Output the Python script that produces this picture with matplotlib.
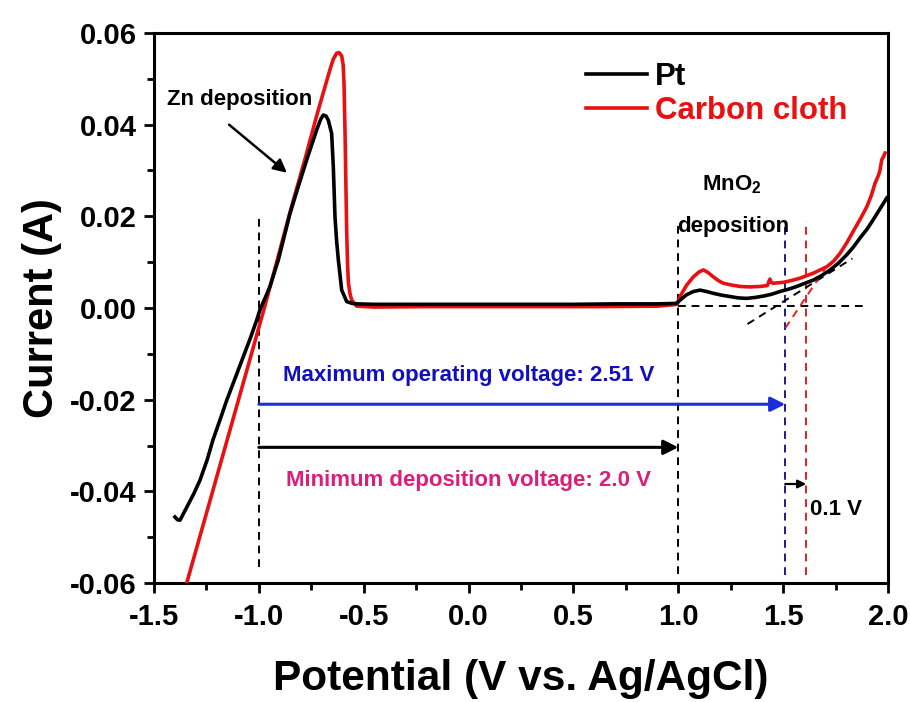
import matplotlib
matplotlib.use("Agg")
import matplotlib.pyplot as plt
from matplotlib.ticker import MultipleLocator, FormatStrFormatter

plt.rcParams['font.family'] = ['Liberation Sans', 'DejaVu Sans']
plt.rcParams['font.weight'] = 'bold'
plt.rcParams['mathtext.default'] = 'regular'

# Linear sweep voltammetry, Pt electrode
pt_v = [-1.400, -1.388, -1.376, -1.343, -1.310, -1.281, -1.247, -1.219, -1.186,
        -1.153, -1.113, -1.074, -1.040, -1.010, -0.995, -0.970, -0.947, -0.907,
        -0.851, -0.810, -0.772, -0.724, -0.705, -0.693, -0.680, -0.669, -0.653,
        -0.645, -0.637, -0.629, -0.621, -0.605, -0.581, -0.555, -0.533, -0.450,
        -0.300, -0.100, 0.100, 0.300, 0.500, 0.700, 0.900, 0.990, 1.008, 1.040,
        1.072, 1.104, 1.135, 1.167, 1.207, 1.247, 1.286, 1.326, 1.366, 1.406,
        1.445, 1.485, 1.525, 1.565, 1.604, 1.644, 1.684, 1.724, 1.764, 1.803,
        1.835, 1.867, 1.900, 1.930, 1.960, 1.994]
pt_i = [-0.0456, -0.0462, -0.0463, -0.0434, -0.0405, -0.0376, -0.0332, -0.0288, -0.0245,
        -0.0201, -0.0153, -0.0106, -0.0065, -0.0026, -0.0004, 0.0022, 0.0047, 0.0105,
        0.0207, 0.0268, 0.0323, 0.0389, 0.0412, 0.0421, 0.0419, 0.0410, 0.0381,
        0.0309, 0.0199, 0.0145, 0.0105, 0.0039, 0.0014, 0.0010, 0.0009, 0.0008,
        0.0008, 0.0008, 0.0008, 0.0008, 0.0008, 0.0009, 0.0009, 0.0010, 0.0017, 0.0029,
        0.0036, 0.0039, 0.0036, 0.0032, 0.0028, 0.0025, 0.0022, 0.0021, 0.0023, 0.0026,
        0.0030, 0.0036, 0.0041, 0.0047, 0.0054, 0.0061, 0.0071, 0.0083, 0.0098, 0.0116,
        0.0133, 0.0153, 0.0172, 0.0193, 0.0215, 0.0240]

# Linear sweep voltammetry, carbon cloth electrode
cc_v = [-1.360, -1.344, -1.250, -1.150, -1.050, -0.974, -0.915, -0.851, -0.780,
        -0.724, -0.680, -0.661, -0.645, -0.629, -0.617, -0.605, -0.598, -0.594,
        -0.589, -0.585, -0.581, -0.577, -0.573, -0.565, -0.557, -0.533, -0.450,
        -0.200, 0.200, 0.600, 0.900, 0.995, 1.008, 1.040, 1.072, 1.100, 1.120,
        1.140, 1.167, 1.190, 1.215, 1.255, 1.295, 1.340, 1.390, 1.425, 1.432,
        1.437, 1.443, 1.453, 1.501, 1.540, 1.580, 1.644, 1.708, 1.740, 1.771,
        1.803, 1.835, 1.870, 1.899, 1.920, 1.938, 1.955, 1.962, 1.970, 1.978, 1.986]
cc_i = [-0.0626, -0.0600, -0.0448, -0.0286, -0.0124, 0.0000, 0.0100, 0.0210, 0.0325,
        0.0420, 0.0490, 0.0520, 0.0543, 0.0556, 0.0557, 0.0550, 0.0530, 0.0491,
        0.0382, 0.0270, 0.0164, 0.0095, 0.0055, 0.0030, 0.0017, 0.0004, 0.0002,
        0.0003, 0.0003, 0.0003, 0.0004, 0.0008, 0.0025, 0.0050, 0.0068, 0.0079, 0.0083,
        0.0078, 0.0068, 0.0060, 0.0054, 0.0050, 0.0047, 0.0046, 0.0047, 0.0049, 0.0058,
        0.0063, 0.0056, 0.0054, 0.0056, 0.0060, 0.0065, 0.0076, 0.0090, 0.0102, 0.0119,
        0.0142, 0.0168, 0.0196, 0.0221, 0.0245, 0.0272, 0.0290, 0.0301, 0.0323, 0.0330, 0.0338]

series_labels = ["Pt", "Carbon cloth"]
series_colors = ["black", "#E81010"]

x_ticks = [-1.5, -1.0, -0.5, 0.0, 0.5, 1.0, 1.5, 2.0]
y_ticks = [-0.06, -0.04, -0.02, 0.00, 0.02, 0.04, 0.06]

# key potentials (V vs. Ag/AgCl)
zn_onset = -1.0
mn_onset_pt = 1.0
mn_onset_cc = 1.51
mn_onset_cc_shift = 1.61

fig = plt.figure(figsize=(9.10, 7.02), dpi=100)
ax = fig.add_axes([154 / 910, 1 - 583 / 702, 734 / 910, 550 / 702])

ax.plot(pt_v, pt_i, color=series_colors[0], lw=2.6, label=series_labels[0],
        solid_joinstyle='round', zorder=4)
ax.plot(cc_v, cc_i, color=series_colors[1], lw=2.6, label=series_labels[1],
        solid_joinstyle='round', zorder=3)

ax.set_xlim(-1.5, 2.0)
ax.set_ylim(-0.06, 0.06)
ax.set_xticks(x_ticks)
ax.set_yticks(y_ticks)
ax.xaxis.set_minor_locator(MultipleLocator(0.25))
ax.yaxis.set_minor_locator(MultipleLocator(0.01))
ax.xaxis.set_major_formatter(FormatStrFormatter('%.1f'))
ax.yaxis.set_major_formatter(FormatStrFormatter('%.2f'))
ax.tick_params(which='major', direction='out', length=7.5, width=2, labelsize=21)
ax.tick_params(axis='x', which='major', pad=7)
ax.tick_params(axis='y', which='major', pad=5)
ax.tick_params(which='minor', direction='out', length=5, width=2)
for lab in ax.get_xticklabels() + ax.get_yticklabels():
    lab.set_fontweight('bold')
for sp in ax.spines.values():
    sp.set_linewidth(2.2)

ax.set_xlabel("Potential (V vs. Ag/AgCl)", fontsize=30.5, fontweight='bold', labelpad=20)
ax.set_ylabel("Current (A)", fontsize=30, fontweight='bold', labelpad=6)

leg = ax.legend(loc='upper left', bbox_to_anchor=(0.588, 0.947), frameon=False,
                handlelength=1.95, handletextpad=0.28, labelspacing=0.12,
                borderpad=0, borderaxespad=0, labelcolor=series_colors,
                prop={'weight': 'bold', 'size': 22.5})

dash = (0, (4, 3))
# onset markers
ax.plot([zn_onset, zn_onset], [-0.0565, 0.0200], color='black', lw=1.4, ls=dash, zorder=2)
ax.plot([mn_onset_pt, mn_onset_pt], [-0.0580, 0.0188], color='black', lw=1.4, ls=dash, zorder=2)
ax.plot([mn_onset_cc, mn_onset_cc], [-0.0583, 0.0185], color='#1C1C8C', lw=1.4, ls=dash, zorder=2)
ax.plot([mn_onset_cc_shift, mn_onset_cc_shift], [-0.0583, 0.0190], color='#E02020', lw=1.4, ls=dash, zorder=2)
# baseline and tangent extrapolations
ax.plot([1.0, 1.905], [0.0005, 0.0005], color='black', lw=1.4, ls=dash, zorder=2)
ax.plot([1.33, 1.83], [-0.0035, 0.0108], color='black', lw=1.4, ls=dash, zorder=2)
ax.plot([1.51, 1.70], [-0.0044, 0.0086], color='#E02020', lw=1.4, ls=dash, zorder=2)

arrow = dict(arrowstyle='-|>', lw=2.2, shrinkA=0, shrinkB=0, mutation_scale=22)
ax.annotate('', xy=(mn_onset_cc, -0.0210), xytext=(zn_onset, -0.0210),
            arrowprops=dict(arrow, color='#1A2EDC'))
ax.annotate('', xy=(mn_onset_pt, -0.0304), xytext=(zn_onset, -0.0304),
            arrowprops=dict(arrow, color='black'))
ax.annotate('', xy=(mn_onset_cc_shift, -0.0384), xytext=(mn_onset_cc, -0.0384),
            arrowprops=dict(arrowstyle='-|>', lw=1.6, shrinkA=0, shrinkB=0,
                            mutation_scale=12, color='black'))
ax.annotate('', xy=(-0.866, 0.0295), xytext=(-1.142, 0.0400),
            arrowprops=dict(arrowstyle='-|>', lw=1.8, shrinkA=0, shrinkB=0,
                            mutation_scale=20, color='black'))

ax.text(-1.438, 0.0454, "Zn deposition", fontsize=16, fontweight='bold',
        ha='left', va='center')
ax.text(1.254, 0.0269, "MnO$_2$", fontsize=16, fontweight='bold', ha='center', va='center')
ax.text(1.264, 0.0178, "deposition", fontsize=16, fontweight='bold', ha='center',
        va='center', zorder=5)
ax.text(0.0, -0.0148, "Maximum operating voltage: %.2f V" % (mn_onset_cc - zn_onset),
        fontsize=16, fontweight='bold', color='#1010C0', ha='center', va='center')
ax.text(0.0, -0.0376, "Minimum deposition voltage: %.1f V" % (mn_onset_pt - zn_onset),
        fontsize=16, fontweight='bold', color='#DC1E78', ha='center', va='center')
ax.text(1.628, -0.0439, "%.1f V" % (mn_onset_cc_shift - mn_onset_cc), fontsize=16,
        fontweight='bold', ha='left', va='center')

fig.savefig("out.png", dpi=100)
